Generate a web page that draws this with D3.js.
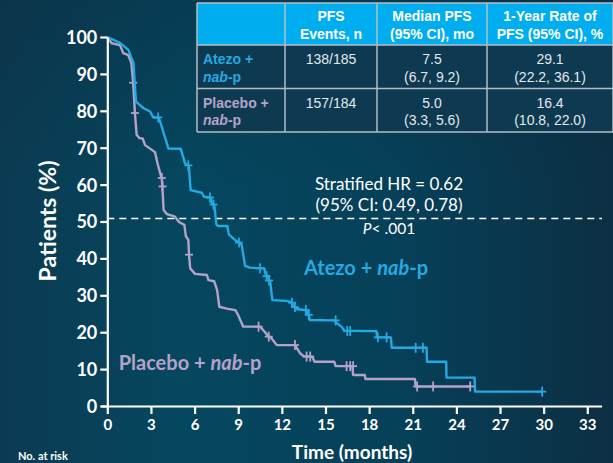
<!DOCTYPE html>
<html><head><meta charset="utf-8">
<script src="https://cdn.jsdelivr.net/npm/d3@7/dist/d3.min.js"></script>
<style>html,body{margin:0;padding:0;background:#0a4059;overflow:hidden}svg{display:block}</style>
</head><body>
<script>
// ---- data ----
const xTicks = [0,3,6,9,12,15,18,21,24,27,30,33];
const yTicks = [0,10,20,30,40,50,60,70,80,90,100];
const atezoCurve = [[0,100],[0.87,98.4],[1.45,96.5],[1.6,95],[1.8,92.9],[1.97,82.5],[2.5,80.7],[2.94,79.8],[3.16,78.2],[3.5,78.2],[3.6,77.5],[4.2,69.8],[5.05,69.7],[5.34,65.8],[5.6,65.2],[5.73,58.5],[6.5,57.8],[6.65,56.7],[7.1,56.5],[7.2,54.9],[7.35,54.6],[7.5,49.2],[7.6,48.8],[8.25,48.8],[8.35,46.5],[8.78,45],[9.08,44.3],[9.24,43.6],[9.47,38.0],[9.8,37.5],[10.8,37.3],[10.85,36],[11.1,34.5],[11.2,33.6],[11.35,28.7],[12.3,28.5],[12.6,28.2],[12.8,27.2],[12.95,26.3],[13.6,26.0],[13.8,25.2],[13.92,23.3],[15.6,23.2],[15.8,22.4],[16.1,21.5],[16.3,20.4],[18.5,20.3],[18.55,18.6],[19.5,18.6],[19.55,15.8],[21.95,15.8],[21.98,12],[23.3,12],[23.32,7.7],[25.25,7.7],[25.28,3.9],[29.9,3.9]];
const atezoCensor = [[3.5,78.2],[5.57,65.2],[7.06,56.5],[7.3,54.6],[9.05,44.3],[10.5,37.3],[10.95,35.2],[11.12,34],[12.7,28.0],[12.9,26.8],[13.65,26],[13.85,24.7],[15.7,23.2],[16.5,20.3],[16.7,20.3],[18.6,18.6],[19.2,18.6],[21.2,15.8],[21.7,15.8],[29.9,3.9]];
const placeboCurve = [[0,100],[0.3,98.3],[0.87,97.8],[1.1,95.6],[1.44,95.1],[1.65,93],[1.78,87.6],[1.9,79.3],[2.02,73.5],[2.2,72.6],[2.43,72.5],[2.6,70.7],[3.28,68.8],[3.45,65.8],[3.75,61.5],[3.82,57],[3.87,53.1],[4.1,52.0],[4.65,51.3],[4.95,49.8],[5.3,49.1],[5.4,46],[5.57,45],[5.62,41],[5.7,37.3],[6.03,35.8],[6.85,35.5],[6.95,34.1],[7.35,33.8],[7.55,31.4],[7.7,26.9],[8.2,26.4],[8.8,26],[8.95,25],[9.35,21.5],[10.5,21.5],[10.85,20],[11.05,19],[11.3,18.3],[11.65,16.5],[12.9,16.5],[13.25,14.3],[13.5,13.5],[14.1,13.3],[14.25,12.0],[15.6,12.0],[15.7,10.8],[16.85,10.8],[16.9,8.4],[17.7,8.4],[17.75,7.3],[21.15,7.3],[21.2,5.3],[25.0,5.3]];
const placeboCensor = [[1.78,87.6],[1.9,79.4],[3.75,61.8],[3.8,59.5],[5.62,41],[10.4,21.5],[11.1,18.8],[12.9,16.5],[13.7,13.4],[13.95,13.4],[16.45,10.8],[16.7,10.8],[16.9,10.8],[21.3,5.3],[22.4,5.3],[24.95,5.3]];
const medianLine = 50.8;
const tableHeader = [["", ""],["PFS","Events, n"],["Median PFS","(95% CI), mo"],["1-Year Rate of","PFS (95% CI), %"]];
const tableRows = [
  {arm:["Atezo +","nab","-p"], cells:[["138/185",""],["7.5","(6.7, 9.2)"],["29.1","(22.2, 36.1)"]]},
  {arm:["Placebo +","nab","-p"], cells:[["157/184",""],["5.0","(3.3, 5.6)"],["16.4","(10.8, 22.0)"]]}
];
const annot = ["Stratified HR = 0.62","(95% CI: 0.49, 0.78)"];

// ---- drawing ----
const W=613,H=463;
const blue="#25a9e2", purple="#b5a2c8";
const svg=d3.select("body").append("svg").attr("width",W).attr("height",H);
const defs=svg.append("defs");
const g1=defs.append("linearGradient").attr("id","bg").attr("x1","0").attr("x2","1").attr("y1","0").attr("y2","0");
g1.append("stop").attr("offset","0").attr("stop-color","#0b3b52");
g1.append("stop").attr("offset","0.3").attr("stop-color","#05475f");
g1.append("stop").attr("offset","0.65").attr("stop-color","#064059");
g1.append("stop").attr("offset","1").attr("stop-color","#0c2f43");
svg.append("rect").attr("width",W).attr("height",H).attr("fill","url(#bg)");
const g2=defs.append("linearGradient").attr("id","bgv").attr("x1","0").attr("x2","0").attr("y1","0").attr("y2","1");
g2.append("stop").attr("offset","0").attr("stop-color","#0a2a3c").attr("stop-opacity",0.35);
g2.append("stop").attr("offset","0.4").attr("stop-color","#0a2a3c").attr("stop-opacity",0);
svg.append("rect").attr("width",W).attr("height",H).attr("fill","url(#bgv)");

const x=d3.scaleLinear().domain([0,33]).range([107.3,587.3]);
const y=d3.scaleLinear().domain([0,100]).range([406,37]);
const font="Lato, 'Open Sans', sans-serif";

// median dashed line
svg.append("line").attr("x1",x(0)).attr("x2",602).attr("y1",y(medianLine)).attr("y2",y(medianLine))
  .attr("stroke","#fff").attr("stroke-width",1.5).attr("stroke-dasharray","7,5");

// curves
const line=d3.line().x(d=>x(d[0])).y(d=>y(d[1]));
function drawCurve(data,cens,col){
  svg.append("path").datum(data).attr("d",line).attr("fill","none").attr("stroke",col)
    .attr("stroke-width",2.4).attr("stroke-linejoin","round");
  const c=svg.append("g").attr("stroke",col).attr("stroke-width",1.8);
  c.selectAll("line.v").data(cens).join("line").attr("x1",d=>x(d[0])).attr("x2",d=>x(d[0]))
    .attr("y1",d=>y(d[1])-5).attr("y2",d=>y(d[1])+5);
  c.selectAll("line.h").data(cens).join("line").attr("x1",d=>x(d[0])-4).attr("x2",d=>x(d[0])+4)
    .attr("y1",d=>y(d[1])).attr("y2",d=>y(d[1]));
}
drawCurve(placeboCurve,placeboCensor,purple);
drawCurve(atezoCurve,atezoCensor,blue);

// axes
const xAxis=svg.append("g").attr("transform",`translate(0,${y(0)})`)
  .call(d3.axisBottom(x).tickValues(xTicks).tickSize(8).tickPadding(5).tickSizeOuter(0));
xAxis.select(".domain").attr("d",`M${101.5},0.5H${602}`);
const yAxis=svg.append("g").attr("transform",`translate(${x(0)},0)`)
  .call(d3.axisLeft(y).tickValues(yTicks).tickSize(7).tickPadding(3).tickSizeOuter(0));
[xAxis,yAxis].forEach(a=>{
  a.selectAll(".domain").attr("stroke","#fff").attr("stroke-width",2.2);
  a.selectAll(".tick line").attr("stroke","#fff").attr("stroke-width",2.2);
  a.selectAll(".tick text").attr("fill","#fff").attr("font-family",font).attr("font-weight","bold");
});
xAxis.selectAll(".tick text").attr("font-size",15);
yAxis.selectAll(".tick text").attr("font-size",18).attr("dy","0.36em");

svg.append("text").attr("transform","translate(56,221) rotate(-90)").attr("text-anchor","middle")
  .attr("fill","#fff").attr("font-family",font).attr("font-weight","bold").attr("font-size",23).text("Patients (%)");
svg.append("text").attr("x",352).attr("y",459).attr("text-anchor","middle")
  .attr("fill","#fff").attr("font-family",font).attr("font-weight","bold").attr("font-size",19).text("Time (months)");
svg.append("text").attr("x",18).attr("y",460).attr("fill","#fff").attr("font-family",font)
  .attr("font-weight","bold").attr("font-size",11).text("No. at risk");

// annotations
svg.append("text").attr("x",389).attr("y",190).attr("text-anchor","middle").attr("fill","#fff")
  .attr("font-family",font).attr("font-size",17).text(annot[0]);
svg.append("text").attr("x",389).attr("y",211).attr("text-anchor","middle").attr("fill","#fff")
  .attr("font-family",font).attr("font-size",17).text(annot[1]);
const pt=svg.append("text").attr("x",389).attr("y",234).attr("text-anchor","middle").attr("fill","#fff")
  .attr("font-family",font).attr("font-size",15.5);
pt.append("tspan").attr("font-style","italic").text("P");
pt.append("tspan").text("< .001");

function armLabel(xp,yp,txt,col){
  const t=svg.append("text").attr("x",xp).attr("y",yp).attr("text-anchor","middle").attr("fill",col)
    .attr("font-family",font).attr("font-weight","bold").attr("font-size",20);
  t.append("tspan").text(txt+" + ");
  t.append("tspan").attr("font-style","italic").text("nab");
  t.append("tspan").text("-p");
}
armLabel(366,275,"Atezo",blue);
armLabel(190,370,"Placebo",purple);

// table
const colX=[197,285,377,487,613];
const rowY=[3,45,88.5,132];
const tf="'Liberation Sans', Arial, sans-serif";
const tg=svg.append("g");
tg.append("rect").attr("x",colX[0]).attr("y",rowY[0]).attr("width",colX[4]-colX[0]).attr("height",rowY[1]-rowY[0]).attr("fill","#00aeef");
tg.append("rect").attr("x",colX[0]).attr("y",rowY[1]).attr("width",colX[4]-colX[0]).attr("height",rowY[3]-rowY[1]).attr("fill","#0d3a51");
const bc="#b4bcc4";
rowY.forEach(v=>tg.append("line").attr("x1",colX[0]).attr("x2",colX[4]).attr("y1",v).attr("y2",v).attr("stroke",bc).attr("stroke-width",1.5));
colX.forEach(v=>tg.append("line").attr("x1",v).attr("x2",v).attr("y1",rowY[0]).attr("y2",rowY[3]).attr("stroke",bc).attr("stroke-width",1.5));
tableHeader.forEach((h,i)=>{
  if(i===0) return;
  const cx=(colX[i]+colX[i+1])/2;
  h.forEach((s,j)=>tg.append("text").attr("x",cx).attr("y",21+j*17.5).attr("text-anchor","middle")
    .attr("fill","#fff").attr("font-family",tf).attr("font-weight","bold").attr("font-size",14).text(s));
});
tableRows.forEach((r,ri)=>{
  const base=rowY[ri+1]+19;
  const col=ri===0?blue:purple;
  tg.append("text").attr("x",203).attr("y",base).attr("fill",col).attr("font-family",tf).attr("font-weight","bold").attr("font-size",14).text(r.arm[0]);
  const t2=tg.append("text").attr("x",203).attr("y",base+17.5).attr("fill",col).attr("font-family",tf).attr("font-weight","bold").attr("font-size",14);
  t2.append("tspan").attr("font-style","italic").text(r.arm[1]);
  t2.append("tspan").text(r.arm[2]);
  r.cells.forEach((c,ci)=>{
    const cx=(colX[ci+1]+colX[ci+2])/2;
    c.forEach((s,j)=>{ if(s) tg.append("text").attr("x",cx).attr("y",base+j*17.5).attr("text-anchor","middle")
      .attr("fill","#e4e8ec").attr("font-family",tf).attr("font-size",14).text(s);});
  });
});
</script>
</body></html>
